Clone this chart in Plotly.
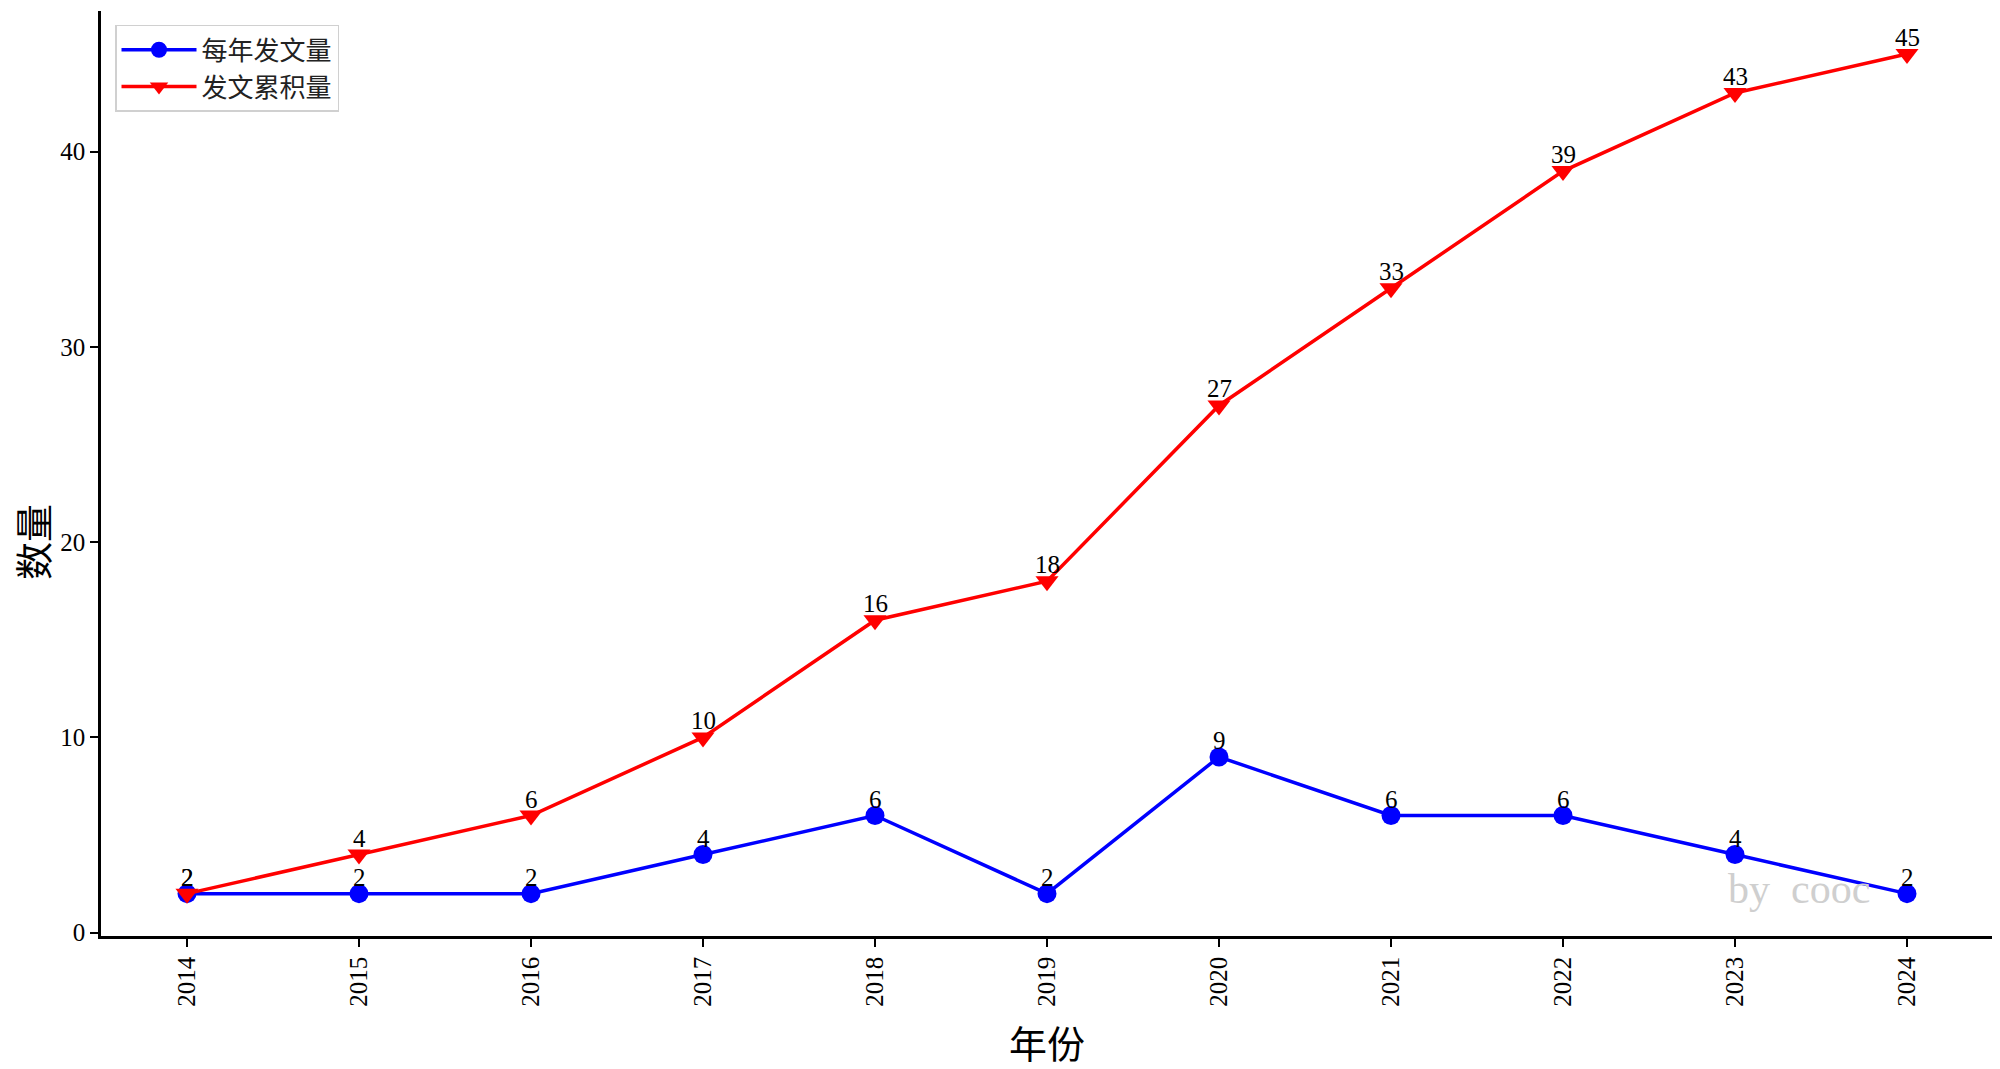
import plotly.graph_objects as go

years = [2014, 2015, 2016, 2017, 2018, 2019, 2020, 2021, 2022, 2023, 2024]
annual = [2, 2, 2, 4, 6, 2, 9, 6, 6, 4, 2]
cumulative = [2, 4, 6, 10, 16, 18, 27, 33, 39, 43, 45]
series_names = ["每年发文量", "发文累积量"]
y_ticks = [0, 10, 20, 30, 40]

SERIF = "Liberation Serif, Times New Roman, Noto Sans CJK SC, serif"

fig = go.Figure()
fig.add_trace(go.Scatter(
    x=years, y=annual, mode="lines+markers", name=series_names[0],
    line=dict(color="#0000ff", width=3.5),
    marker=dict(symbol="circle", size=19, color="#0000ff"),
))
fig.add_trace(go.Scatter(
    x=years, y=cumulative, mode="lines+markers", name=series_names[1],
    line=dict(color="#ff0000", width=3.5),
    marker=dict(symbol="triangle-down", size=20, color="#ff0000"),
))

annotations = []
for series in (annual, cumulative):
    for xv, yv in zip(years, series):
        annotations.append(dict(
            x=xv, y=yv, xref="x", yref="y", text=str(yv), showarrow=False,
            xanchor="center", yanchor="bottom", yshift=1,
            font=dict(family=SERIF, size=25, color="black"),
        ))

# axis titles
annotations.append(dict(
    x=0.5, y=-0.114, xref="paper", yref="paper", text="年份", showarrow=False,
    xanchor="center", yanchor="middle",
    font=dict(family="Noto Sans CJK SC", size=38, color="black"),
))
annotations.append(dict(
    x=-0.0365, y=0.426, xref="paper", yref="paper", text="数量", showarrow=False,
    xanchor="center", yanchor="middle", textangle=-90, borderpad=0,
    font=dict(family="Noto Sans CJK SC", size=38, color="black"),
))
# watermark
annotations.append(dict(
    x=0.936, y=0.051, xref="paper", yref="paper", text="by&nbsp;&nbsp;cooc", showarrow=False,
    xanchor="right", yanchor="middle",
    font=dict(family=SERIF, size=42, color="#cfcfcf"),
))

# page body has an 8px margin: compensate so the plot area lands at the reference pixels
fig.update_layout(
    width=1992, height=1061,
    margin=dict(l=93, r=7, t=3, b=132.5),
    plot_bgcolor="white", paper_bgcolor="white",
    showlegend=True,
    legend=dict(
        x=0.0074, y=0.985, xanchor="left", yanchor="top",
        bordercolor="#d0d0d0", borderwidth=1.5, bgcolor="rgba(255,255,255,0.8)",
        font=dict(family="Noto Sans CJK SC", size=26, color="#222"),
        itemwidth=75, tracegroupgap=0,
    ),
    annotations=annotations,
    xaxis=dict(
        range=[2013.5, 2024.5], tickmode="array", tickvals=years,
        ticktext=[str(y) for y in years], tickangle=-90, automargin=False,
        showline=True, linecolor="black", linewidth=2.5, mirror=False,
        ticks="outside", ticklen=8, tickwidth=2, tickcolor="black",
        showgrid=False, zeroline=False,
        tickfont=dict(family=SERIF, size=25, color="black"),
    ),
    yaxis=dict(
        range=[-0.17, 47.2], tickmode="array", tickvals=y_ticks, automargin=False,
        showline=True, linecolor="black", linewidth=2.5, mirror=False,
        ticks="outside", ticklen=8, tickwidth=2, tickcolor="black",
        showgrid=False, zeroline=False,
        tickfont=dict(family=SERIF, size=25, color="black"),
    ),
)

fig.write_html("out.html")
